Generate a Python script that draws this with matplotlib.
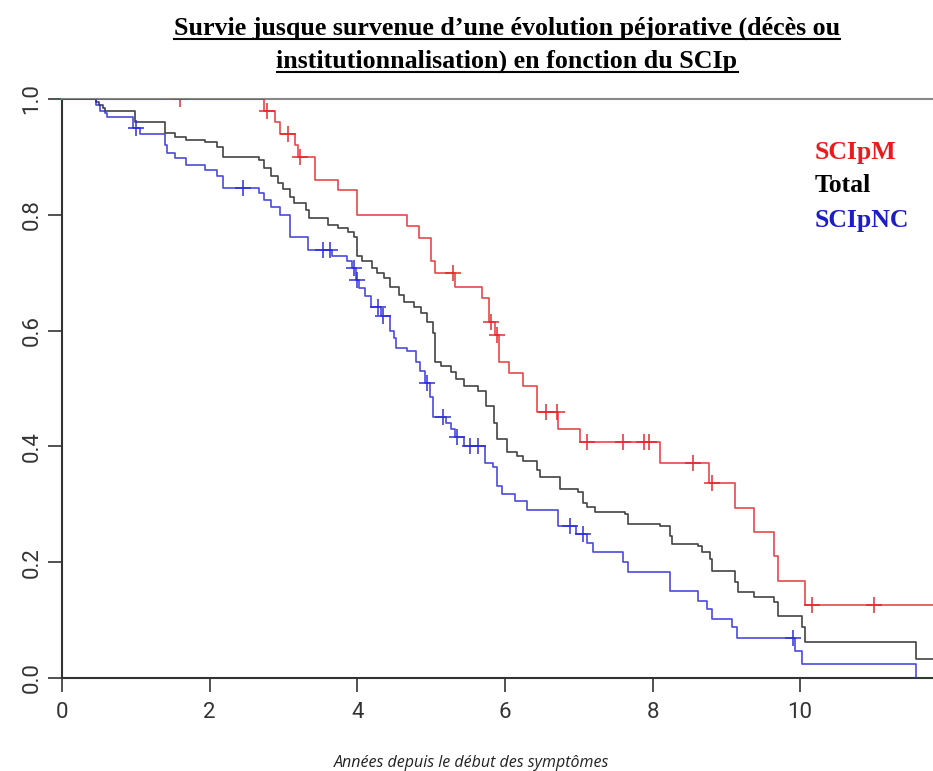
import numpy as np
import matplotlib
matplotlib.use("Agg")
import matplotlib.pyplot as plt
from matplotlib.lines import Line2D

# --- Kaplan-Meier step data (time of event, survival after the event) ---
red_t = [0, 2.74, 2.88, 2.95, 3.16, 3.20, 3.43, 3.74, 4.00, 4.67, 4.83, 5.00, 5.05, 5.33,
         5.69, 5.79, 5.87, 5.92, 6.05, 6.25, 6.43, 6.72, 7.02, 8.10, 8.77, 9.12, 9.37,
         9.65, 9.70, 10.07]
red_s = [1.0, 0.98, 0.96, 0.94, 0.92, 0.90, 0.86, 0.843, 0.80, 0.78, 0.76, 0.72, 0.70, 0.676,
         0.657, 0.614, 0.593, 0.546, 0.527, 0.504, 0.46, 0.43, 0.407, 0.372, 0.336, 0.293, 0.252,
         0.21, 0.167, 0.126]
red_cens = [1.60, 2.78, 3.06, 3.23, 5.30, 5.81, 5.89, 6.56, 6.70, 7.11, 7.60, 7.89, 7.95,
            8.55, 8.81, 10.16, 11.00]

blue_t = [0, 0.46, 0.52, 0.58, 0.61, 0.96, 1.05, 1.40, 1.42, 1.53, 1.68, 1.94, 2.10, 2.18,
          2.67, 2.74, 2.83, 2.95, 3.09, 3.33, 3.66, 3.86, 3.93, 3.98, 4.03, 4.10, 4.18, 4.32,
          4.44, 4.50, 4.53, 4.67, 4.80, 4.85, 4.92, 4.98, 5.03, 5.20, 5.27, 5.32, 5.44, 5.73,
          5.84, 5.89, 5.96, 6.14, 6.30, 6.72, 6.97, 7.11, 7.20, 7.60, 7.67, 8.24, 8.62, 8.74,
          8.81, 9.08, 9.15, 9.93, 10.03, 11.57]
blue_s = [1.0, 0.99, 0.98, 0.975, 0.969, 0.95, 0.94, 0.921, 0.907, 0.898, 0.886, 0.877, 0.867, 0.846,
          0.838, 0.826, 0.814, 0.80, 0.762, 0.740, 0.728, 0.72, 0.708, 0.688, 0.674, 0.659, 0.641, 0.625,
          0.60, 0.588, 0.57, 0.564, 0.545, 0.53, 0.51, 0.486, 0.45, 0.441, 0.43, 0.416, 0.40, 0.372,
          0.364, 0.331, 0.317, 0.305, 0.291, 0.262, 0.248, 0.234, 0.217, 0.20, 0.183, 0.15, 0.133, 0.119,
          0.102, 0.088, 0.069, 0.047, 0.024, 0.0]
blue_cens = [1.00, 2.45, 3.54, 3.63, 3.95, 4.00, 4.28, 4.35, 4.95, 5.16, 5.35, 5.53, 5.64,
             6.88, 7.06, 9.91]

tot_t = [0, 0.46, 0.50, 0.55, 0.58, 0.99, 1.40, 1.53, 1.68, 1.94, 2.10, 2.18, 2.67, 2.74,
         2.83, 2.93, 3.00, 3.09, 3.14, 3.31, 3.35, 3.60, 3.74, 3.87, 3.95, 4.00, 4.07, 4.20,
         4.27, 4.36, 4.45, 4.56, 4.63, 4.77, 4.86, 4.95, 5.02, 5.05, 5.14, 5.27, 5.34, 5.45,
         5.63, 5.75, 5.85, 5.89, 6.03, 6.16, 6.25, 6.43, 6.48, 6.75, 6.99, 7.06, 7.11, 7.22,
         7.63, 7.67, 8.10, 8.24, 8.26, 8.62, 8.67, 8.78, 8.81, 9.12, 9.16, 9.37, 9.64, 9.70,
         10.03, 10.07, 11.57]
tot_s = [1.0, 0.995, 0.99, 0.985, 0.979, 0.96, 0.941, 0.935, 0.929, 0.926, 0.917, 0.90, 0.895, 0.88,
         0.867, 0.855, 0.845, 0.831, 0.82, 0.809, 0.795, 0.783, 0.777, 0.771, 0.762, 0.728, 0.72, 0.708,
         0.70, 0.69, 0.676, 0.662, 0.65, 0.64, 0.631, 0.614, 0.596, 0.545, 0.538, 0.529, 0.516, 0.504,
         0.495, 0.469, 0.441, 0.412, 0.391, 0.383, 0.374, 0.36, 0.348, 0.326, 0.321, 0.303, 0.295, 0.286,
         0.283, 0.266, 0.262, 0.245, 0.231, 0.228, 0.217, 0.205, 0.184, 0.165, 0.148, 0.14, 0.131, 0.107,
         0.088, 0.062, 0.033]

x_max = 11.8
xticks = [0, 2, 4, 6, 8, 10]
yticks = [0.0, 0.2, 0.4, 0.6, 0.8, 1.0]

title1 = "Survie jusque survenue d\u2019une \u00e9volution p\u00e9jorative (d\u00e9c\u00e8s ou"
title2 = "institutionnalisation) en fonction du SCIp"
xlab = "Ann\u00e9es depuis le d\u00e9but des sympt\u00f4mes"

c_red = "#e5262a"
c_blue = "#2b2bd8"
c_blk = "#222222"


def surv_at(t, s, x):
    i = np.searchsorted(t, x, side="right") - 1
    return np.array(s)[i]


fig = plt.figure(figsize=(9.33, 7.71), dpi=100)
ax = fig.add_axes([62 / 933, 1 - 678 / 771, 1 - 62 / 933, 579 / 771])

for t, s, cens, col in [(tot_t, tot_s, [], c_blk),
                        (blue_t, blue_s, blue_cens, c_blue),
                        (red_t, red_s, red_cens, c_red)]:
    tt = list(t) + [x_max + 0.5]
    ss = list(s) + [s[-1]]
    ax.step(tt, ss, where="post", color=col, lw=1.2, alpha=0.85, zorder=3)
    if cens:
        ax.plot(cens, surv_at(t, s, cens), ls="none", marker="+", ms=11, mew=1.2,
                color=col, alpha=0.9, zorder=4)

ax.set_xlim(0, x_max)
ax.set_ylim(0, 1.0)
ax.set_xticks(xticks)
ax.set_xticklabels([str(v) for v in xticks])
ax.set_yticks(yticks)
ax.set_yticklabels(["%.1f" % v for v in yticks], rotation=90, va="center")
ax.tick_params(axis="both", length=10, width=1.2, color="#333333", labelsize=16,
               labelcolor="#333333")
ax.tick_params(axis="y", pad=4)
ax.tick_params(axis="x", pad=7)
for lab in ax.get_xticklabels() + ax.get_yticklabels():
    lab.set_family("Roboto")

ax.spines["right"].set_visible(False)
ax.spines["top"].set_color("#888888")
ax.spines["top"].set_linewidth(1.5)
ax.spines["left"].set_color("#333333")
ax.spines["left"].set_linewidth(1.5)
ax.spines["bottom"].set_color("#333333")
ax.spines["bottom"].set_linewidth(1.5)

# legend as coloured text
for txt, col, yp in [("SCIpM", "#e81c1c", 153), ("Total", "black", 186), ("SCIpNC", "#1c1cc8", 220)]:
    fig.text(815 / 933, 1 - yp / 771, txt, color=col, fontsize=18.5, fontweight="bold",
             family="Liberation Serif", ha="left", va="center")

# title, two underlined lines
t1 = fig.text(507 / 933, 1 - 28 / 771, title1, fontsize=18.7, fontweight="bold",
              family="Liberation Serif", ha="center", va="center")
t2 = fig.text(507 / 933, 1 - 61 / 771, title2, fontsize=18.7, fontweight="bold",
              family="Liberation Serif", ha="center", va="center")

fig.text(472 / 933, 1 - 763 / 771, xlab, fontsize=11.5, style="italic",
         family="Open Sans", color="#222222", ha="center", va="center")

fig.canvas.draw()
r = fig.canvas.get_renderer()
for t in (t1, t2):
    bb = t.get_window_extent(r)
    W, H = fig.bbox.width, fig.bbox.height
    yl = (bb.y0 + 1) / H
    fig.add_artist(Line2D([bb.x0 / W, bb.x1 / W], [yl, yl], transform=fig.transFigure,
                          color="black", lw=1.5))

fig.savefig("out.png", dpi=100)
